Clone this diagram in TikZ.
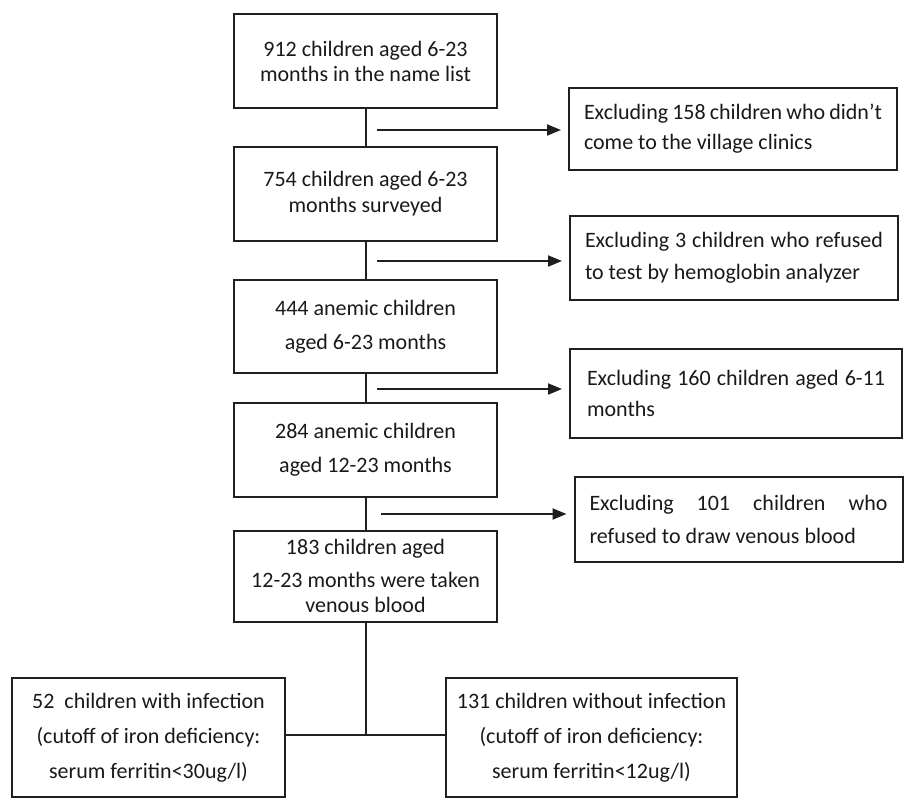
\documentclass[tikz,border=0pt]{standalone}
\usepackage{fontspec}
\setmainfont{Carlito}
\usetikzlibrary{arrows.meta}
\begin{document}
\begin{tikzpicture}[x=1pt,y=-1pt,
  line/.style={draw=black!88, line width=2pt},
  box/.style={line, align=center, inner sep=0pt, minimum width=263pt, text=black!90},
  exbox/.style={line, align=justify, text width=298pt, inner xsep=15pt, inner ysep=0pt, text=black!90},
  botbox/.style={line, align=center, inner sep=0pt, minimum height=119pt, text=black!90,
    font=\fontsize{22}{35}\selectfont},
  arr/.style={line, -{Triangle[length=14pt,width=11pt]}, shorten >=7pt}
]
\useasboundingbox (0,0) rectangle (907,804);

% main column
\node[box, minimum height=94pt, font=\fontsize{22}{25}\selectfont] (B1) at (365.5,61)
  {912 children aged 6-23\\months in the name list};
\node[box, minimum height=94pt, font=\fontsize{22}{26}\selectfont] (B2) at (365.5,194)
  {754 children aged 6-23\\months surveyed};
\node[box, minimum height=93pt, font=\fontsize{22}{34}\selectfont] (B3) at (365.5,326.5)
  {444 anemic children\\aged 6-23 months};
\node[box, minimum height=94pt, font=\fontsize{22}{34}\selectfont] (B4) at (365.5,450)
  {284 anemic children\\aged 12-23 months};
\node[box, minimum height=91pt, font=\fontsize{22}{25}\selectfont] (B5) at (365.5,576)
  {183 children aged\\[8pt]12-23 months were taken\\venous blood};

% exclusion boxes
\node[exbox, minimum height=82pt, font=\fontsize{22}{30}\selectfont] (E1) at (733,129)
  {Excluding 158 children who didn’t\linebreak come to the village clinics};
\node[exbox, minimum height=84pt, font=\fontsize{22}{32}\selectfont] (E2) at (734,258)
  {Excluding 3 children who refused\linebreak to test by hemoglobin analyzer};
\node[exbox, inner xsep=17pt, minimum height=89pt, font=\fontsize{22}{31}\selectfont] (E3) at (736,393.5)
  {Excluding 160 children aged 6-11\linebreak months};
\node[exbox, minimum height=85pt, font=\fontsize{22}{33}\selectfont] (E4) at (738.5,519.5)
  {Excluding 101 children who\linebreak refused to draw venous blood};

% bottom boxes
\node[botbox, minimum width=273pt] (L) at (148.5,737.5)
  {52\ \ children with infection\\(cutoff of iron deficiency:\\serum ferritin<30ug/l)};
\node[botbox, minimum width=291pt] (R) at (591.5,737.5)
  {131 children without infection\\(cutoff of iron deficiency:\\serum ferritin<12ug/l)};

% vertical connectors
\draw[line] (B1) -- (B2);
\draw[line] (B2) -- (B3);
\draw[line] (B3) -- (B4);
\draw[line] (B4) -- (B5);

% arrows to exclusion boxes
\coordinate (s1) at (377,130);
\coordinate (s2) at (377,261);
\coordinate (s3) at (377,389);
\coordinate (s4) at (381,514);
\draw[arr] (s1) -- (s1 -| E1.west);
\draw[arr] (s2) -- (s2 -| E2.west);
\draw[arr] (s3) -- (s3 -| E3.west);
\draw[arr] (s4) -- (s4 -| E4.west);

% split to bottom
\coordinate (J) at (B5.south |- 0,735);
\draw[line] (B5.south) -- (J);
\draw[line] (L.east |- J) -- (R.west |- J);
\end{tikzpicture}
\end{document}
